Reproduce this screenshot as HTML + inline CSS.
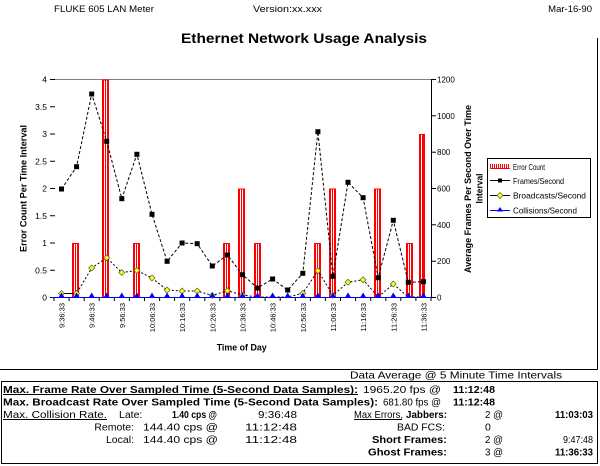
<!DOCTYPE html>
<html><head><meta charset="utf-8"><style>
html,body{margin:0;padding:0;background:#fff;}
svg{display:block;font-family:"Liberation Sans",Arial,sans-serif;}
</style></head><body>
<svg width="600" height="466" viewBox="0 0 600 466" xmlns="http://www.w3.org/2000/svg">
<defs>
<pattern id="lp" x="0" y="0" width="2" height="6" patternUnits="userSpaceOnUse">
<rect x="0" y="0" width="1" height="6" fill="#f00"/><rect x="1" y="1" width="1" height="5" fill="#fff"/><rect x="1" y="0" width="1" height="1" fill="#f00"/>
</pattern>
</defs>
<rect width="600" height="466" fill="#fff"/>
<!-- header -->
<text x="54" y="12" font-size="9.5" textLength="100" lengthAdjust="spacingAndGlyphs">FLUKE 605 LAN Meter</text>
<text x="253" y="12" font-size="9.5" textLength="69" lengthAdjust="spacingAndGlyphs">Version:xx.xxx</text>
<text x="592" y="12" font-size="9.5" text-anchor="end">Mar-16-90</text>
<text x="181" y="43" font-size="13.5" font-weight="bold" textLength="246" lengthAdjust="spacingAndGlyphs">Ethernet Network Usage Analysis</text>
<!-- frame -->
<line x1="597.5" y1="38" x2="597.5" y2="369.5" stroke="#000"/>
<line x1="0" y1="369.5" x2="597.5" y2="369.5" stroke="#000"/>
<!-- gridline top -->
<line x1="54" y1="79.5" x2="431" y2="79.5" stroke="#808080"/>
<!-- left axis ticks and labels -->
<g stroke="#000">
<line x1="50" y1="79.5" x2="55" y2="79.5"/><line x1="50" y1="106.75" x2="55" y2="106.75"/><line x1="50" y1="134" x2="55" y2="134"/><line x1="50" y1="161.25" x2="55" y2="161.25"/><line x1="50" y1="188.5" x2="55" y2="188.5"/><line x1="50" y1="215.75" x2="55" y2="215.75"/><line x1="50" y1="243" x2="55" y2="243"/><line x1="50" y1="270.25" x2="55" y2="270.25"/><line x1="50" y1="297.5" x2="55" y2="297.5"/>
</g>
<g font-size="8.5" text-anchor="end">
<text x="47" y="82.5">4</text><text x="47" y="109.75">3.5</text><text x="47" y="137">3</text><text x="47" y="164.25">2.5</text><text x="47" y="191.5">2</text><text x="47" y="218.75">1.5</text><text x="47" y="246">1</text><text x="47" y="273.25">0.5</text><text x="47" y="300.5">0</text>
</g>
<!-- right axis -->
<line x1="431.5" y1="79" x2="431.5" y2="298" stroke="#000"/>
<g stroke="#000">
<line x1="431.5" y1="79.5" x2="436" y2="79.5"/><line x1="431.5" y1="115.8" x2="436" y2="115.8"/><line x1="431.5" y1="152.2" x2="436" y2="152.2"/><line x1="431.5" y1="188.5" x2="436" y2="188.5"/><line x1="431.5" y1="224.8" x2="436" y2="224.8"/><line x1="431.5" y1="261.2" x2="436" y2="261.2"/><line x1="431.5" y1="297.5" x2="436" y2="297.5"/>
</g>
<g font-size="8">
<text x="437" y="82.5">1200</text><text x="437" y="118.8">1000</text><text x="437" y="155.2">800</text><text x="437" y="191.5">600</text><text x="437" y="227.8">400</text><text x="437" y="264.2">200</text><text x="437" y="300.5">0</text>
</g>
<!-- axis titles -->
<text transform="translate(26.5,188.5) rotate(-90)" font-size="9" font-weight="bold" text-anchor="middle" textLength="127" lengthAdjust="spacingAndGlyphs">Error Count Per Time Interval</text>
<text transform="translate(471,189) rotate(-90)" font-size="9" font-weight="bold" text-anchor="middle" textLength="168" lengthAdjust="spacingAndGlyphs">Average Frames Per Second Over Time</text>
<text transform="translate(482.5,188.5) rotate(-90)" font-size="9" font-weight="bold" text-anchor="middle" textLength="30" lengthAdjust="spacingAndGlyphs">Interval</text>
<text x="241.7" y="350.5" font-size="9" font-weight="bold" text-anchor="middle" textLength="50" lengthAdjust="spacingAndGlyphs">Time of Day</text>
<!-- bars -->
<g fill="#f00">
<rect x="72" y="243" width="7" height="54.5"/>
<rect x="102" y="79.5" width="7" height="218"/>
<rect x="133" y="243" width="7" height="54.5"/>
<rect x="223" y="243" width="7" height="54.5"/>
<rect x="238" y="188.5" width="7" height="109"/>
<rect x="254" y="243" width="7" height="54.5"/>
<rect x="314" y="243" width="7" height="54.5"/>
<rect x="329" y="188.5" width="7" height="109"/>
<rect x="374" y="188.5" width="7" height="109"/>
<rect x="406" y="243" width="7" height="54.5"/>
<rect x="419" y="134" width="6" height="163.5"/>
</g>
<g fill="#fff">
<rect x="74" y="244" width="1" height="53"/><rect x="76" y="244" width="1" height="53"/>
<rect x="104" y="80.5" width="1" height="216"/><rect x="106" y="80.5" width="1" height="216"/>
<rect x="135" y="244" width="1" height="53"/><rect x="137" y="244" width="1" height="53"/>
<rect x="225" y="244" width="1" height="53"/><rect x="227" y="244" width="1" height="53"/>
<rect x="240" y="189.5" width="1" height="107"/><rect x="242" y="189.5" width="1" height="107"/>
<rect x="256" y="244" width="1" height="53"/><rect x="258" y="244" width="1" height="53"/>
<rect x="316" y="244" width="1" height="53"/><rect x="318" y="244" width="1" height="53"/>
<rect x="331" y="189.5" width="1" height="107"/><rect x="333" y="189.5" width="1" height="107"/>
<rect x="376" y="189.5" width="1" height="107"/><rect x="378" y="189.5" width="1" height="107"/>
<rect x="408" y="244" width="1" height="53"/><rect x="410" y="244" width="1" height="53"/>
<rect x="421" y="135" width="1" height="162"/>
</g>
<!-- x axis -->
<line x1="51" y1="297.5" x2="431.5" y2="297.5" stroke="#0000ff"/>
<g stroke="#000">
<line x1="54" y1="298" x2="54" y2="301"/><line x1="69.1" y1="298" x2="69.1" y2="301"/><line x1="84.2" y1="298" x2="84.2" y2="301"/><line x1="99.2" y1="298" x2="99.2" y2="301"/><line x1="114.3" y1="298" x2="114.3" y2="301"/><line x1="129.4" y1="298" x2="129.4" y2="301"/><line x1="144.5" y1="298" x2="144.5" y2="301"/><line x1="159.6" y1="298" x2="159.6" y2="301"/><line x1="174.6" y1="298" x2="174.6" y2="301"/><line x1="189.7" y1="298" x2="189.7" y2="301"/><line x1="204.8" y1="298" x2="204.8" y2="301"/><line x1="219.9" y1="298" x2="219.9" y2="301"/><line x1="235" y1="298" x2="235" y2="301"/><line x1="250" y1="298" x2="250" y2="301"/><line x1="265.1" y1="298" x2="265.1" y2="301"/><line x1="280.2" y1="298" x2="280.2" y2="301"/><line x1="295.3" y1="298" x2="295.3" y2="301"/><line x1="310.4" y1="298" x2="310.4" y2="301"/><line x1="325.4" y1="298" x2="325.4" y2="301"/><line x1="340.5" y1="298" x2="340.5" y2="301"/><line x1="355.6" y1="298" x2="355.6" y2="301"/><line x1="370.7" y1="298" x2="370.7" y2="301"/><line x1="385.8" y1="298" x2="385.8" y2="301"/><line x1="400.8" y1="298" x2="400.8" y2="301"/><line x1="415.9" y1="298" x2="415.9" y2="301"/><line x1="431" y1="298" x2="431" y2="301"/>
</g>
<!-- x labels -->
<g font-size="7.5" text-anchor="end">
<text transform="translate(64.5,303) rotate(-90)">9:36:33</text>
<text transform="translate(94.7,303) rotate(-90)">9:46:33</text>
<text transform="translate(124.8,303) rotate(-90)">9:56:33</text>
<text transform="translate(155,303) rotate(-90)">10:06:33</text>
<text transform="translate(185.1,303) rotate(-90)">10:16:33</text>
<text transform="translate(215.3,303) rotate(-90)">10:26:33</text>
<text transform="translate(245.5,303) rotate(-90)">10:36:33</text>
<text transform="translate(275.6,303) rotate(-90)">10:46:33</text>
<text transform="translate(305.8,303) rotate(-90)">10:56:33</text>
<text transform="translate(335.9,303) rotate(-90)">11:06:33</text>
<text transform="translate(366.1,303) rotate(-90)">11:16:33</text>
<text transform="translate(396.3,303) rotate(-90)">11:26:33</text>
<text transform="translate(426.4,303) rotate(-90)">11:36:33</text>
</g>
<!-- frames line -->
<polyline fill="none" stroke="#000" stroke-width="1" stroke-dasharray="3,2" points="61.5,189 76.6,166.7 91.7,94 106.7,141.3 121.8,198.7 136.9,154.3 152,214.3 167.1,261.3 182.1,243 197.2,243.7 212.3,266 227.4,255 242.5,274.7 257.5,288 272.6,279 287.7,290 302.8,273.3 317.9,131.7 332.9,276.3 348,182.3 363.1,197.7 378.2,277.7 393.3,220.3 408.3,282.3 423.4,281.7"/>
<g fill="#000">
<rect x="59" y="186.5" width="5" height="5"/><rect x="74.1" y="164.2" width="5" height="5"/><rect x="89.2" y="91.5" width="5" height="5"/><rect x="104.2" y="138.8" width="5" height="5"/><rect x="119.3" y="196.2" width="5" height="5"/><rect x="134.4" y="151.8" width="5" height="5"/><rect x="149.5" y="211.8" width="5" height="5"/><rect x="164.6" y="258.8" width="5" height="5"/><rect x="179.6" y="240.5" width="5" height="5"/><rect x="194.7" y="241.2" width="5" height="5"/><rect x="209.8" y="263.5" width="5" height="5"/><rect x="224.9" y="252.5" width="5" height="5"/><rect x="240" y="272.2" width="5" height="5"/><rect x="255" y="285.5" width="5" height="5"/><rect x="270.1" y="276.5" width="5" height="5"/><rect x="285.2" y="287.5" width="5" height="5"/><rect x="300.3" y="270.8" width="5" height="5"/><rect x="315.4" y="129.2" width="5" height="5"/><rect x="330.4" y="273.8" width="5" height="5"/><rect x="345.5" y="179.8" width="5" height="5"/><rect x="360.6" y="195.2" width="5" height="5"/><rect x="375.7" y="275.2" width="5" height="5"/><rect x="390.8" y="217.8" width="5" height="5"/><rect x="405.8" y="279.8" width="5" height="5"/><rect x="420.9" y="279.2" width="5" height="5"/>
</g>
<!-- broadcasts line -->
<polyline fill="none" stroke="#000" stroke-width="1" stroke-dasharray="2,2" points="61.5,293.5 76.6,293.5 91.7,268 106.7,257.8 121.8,272.5 136.9,270.5 152,278 167.1,290 182.1,291 197.2,291 212.3,295.5 227.4,290.7 242.5,295 257.5,297 272.6,297 287.7,297 302.8,293.3 317.9,270.7 332.9,295.3 348,282.3 363.1,279.7 378.2,297 393.3,284 408.3,297 423.4,297"/>
<line x1="61.5" y1="293.5" x2="76.6" y2="293.5" stroke="#000"/>
<g fill="#ffff00" stroke="#555" stroke-width="0.7">
<path d="M61.5,290.5 l3,3 l-3,3 l-3,-3z"/><path d="M76.6,290.5 l3,3 l-3,3 l-3,-3z"/><path d="M91.7,265 l3,3 l-3,3 l-3,-3z"/><path d="M106.7,254.8 l3,3 l-3,3 l-3,-3z"/><path d="M121.8,269.5 l3,3 l-3,3 l-3,-3z"/><path d="M136.9,267.5 l3,3 l-3,3 l-3,-3z"/><path d="M152,275 l3,3 l-3,3 l-3,-3z"/><path d="M167.1,287 l3,3 l-3,3 l-3,-3z"/><path d="M182.1,288 l3,3 l-3,3 l-3,-3z"/><path d="M197.2,288 l3,3 l-3,3 l-3,-3z"/><path d="M212.3,292.5 l3,3 l-3,3 l-3,-3z"/><path d="M227.4,287.7 l3,3 l-3,3 l-3,-3z"/><path d="M242.5,292 l3,3 l-3,3 l-3,-3z"/><path d="M302.8,290.3 l3,3 l-3,3 l-3,-3z"/><path d="M317.9,267.7 l3,3 l-3,3 l-3,-3z"/><path d="M332.9,292.3 l3,3 l-3,3 l-3,-3z"/><path d="M348,279.3 l3,3 l-3,3 l-3,-3z"/><path d="M363.1,276.7 l3,3 l-3,3 l-3,-3z"/><path d="M393.3,281 l3,3 l-3,3 l-3,-3z"/>
</g>
<!-- collisions triangles -->
<g fill="#0000ff">
<path d="M61.5,292.5 l3,5 l-6,0z"/><path d="M76.6,292.5 l3,5 l-6,0z"/><path d="M91.7,292.5 l3,5 l-6,0z"/><path d="M106.7,292.5 l3,5 l-6,0z"/><path d="M121.8,292.5 l3,5 l-6,0z"/><path d="M136.9,292.5 l3,5 l-6,0z"/><path d="M152,292.5 l3,5 l-6,0z"/><path d="M167.1,292.5 l3,5 l-6,0z"/><path d="M182.1,292.5 l3,5 l-6,0z"/><path d="M197.2,292.5 l3,5 l-6,0z"/><path d="M212.3,292.5 l3,5 l-6,0z"/><path d="M227.4,292.5 l3,5 l-6,0z"/><path d="M242.5,292.5 l3,5 l-6,0z"/><path d="M257.5,292.5 l3,5 l-6,0z"/><path d="M272.6,292.5 l3,5 l-6,0z"/><path d="M287.7,292.5 l3,5 l-6,0z"/><path d="M302.8,292.5 l3,5 l-6,0z"/><path d="M317.9,292.5 l3,5 l-6,0z"/><path d="M332.9,292.5 l3,5 l-6,0z"/><path d="M348,292.5 l3,5 l-6,0z"/><path d="M363.1,292.5 l3,5 l-6,0z"/><path d="M378.2,292.5 l3,5 l-6,0z"/><path d="M393.3,292.5 l3,5 l-6,0z"/><path d="M408.3,292.5 l3,5 l-6,0z"/><path d="M423.4,292.5 l3,5 l-6,0z"/>
</g>
<!-- legend -->
<rect x="487.5" y="158.5" width="103" height="59" fill="#fff" stroke="#000"/>
<rect x="490" y="164" width="20" height="5" fill="url(#lp)"/>
<line x1="490" y1="180.5" x2="510" y2="180.5" stroke="#000"/>
<rect x="498" y="178.5" width="4" height="4" fill="#000"/>
<line x1="490" y1="195.5" x2="510" y2="195.5" stroke="#000"/>
<path d="M500,192.5 l3,3 l-3,3 l-3,-3z" fill="#ffff00" stroke="#555" stroke-width="0.7"/>
<line x1="490" y1="210.5" x2="510" y2="210.5" stroke="#0000ff"/>
<path d="M500,207 l3,4.5 l-6,0z" fill="#0000ff"/>
<g font-size="8.5">
<text x="513" y="170" textLength="32" lengthAdjust="spacingAndGlyphs">Error Count</text>
<text x="513" y="184" textLength="51" lengthAdjust="spacingAndGlyphs">Frames/Second</text>
<text x="513" y="198.5" textLength="73" lengthAdjust="spacingAndGlyphs">Broadcasts/Second</text>
<text x="513" y="213.5" textLength="64" lengthAdjust="spacingAndGlyphs">Collisions/Second</text>
</g>
<!-- bottom section -->
<text x="350" y="378.5" font-size="10.5" textLength="212" lengthAdjust="spacingAndGlyphs">Data Average @ 5 Minute Time Intervals</text>
<rect x="1.5" y="381.5" width="596" height="82" fill="none" stroke="#000"/>
<g font-size="10.5">
<text x="3" y="393" font-weight="bold" textLength="355" lengthAdjust="spacingAndGlyphs">Max. Frame Rate Over Sampled Time (5-Second Data Samples):</text>
<line x1="3" y1="394.5" x2="358" y2="394.5" stroke="#000"/>
<text x="363" y="393" textLength="78" lengthAdjust="spacingAndGlyphs">1965.20 fps @</text>
<text x="453" y="393" font-weight="bold" textLength="42" lengthAdjust="spacingAndGlyphs">11:12:48</text>

<text x="3" y="405.5" font-weight="bold" textLength="375" lengthAdjust="spacingAndGlyphs">Max. Broadcast Rate Over Sampled Time (5-Second Data Samples):</text>
<text x="383" y="405.5" textLength="58" lengthAdjust="spacingAndGlyphs">681.80 fps @</text>
<text x="453" y="405.5" font-weight="bold" textLength="42" lengthAdjust="spacingAndGlyphs">11:12:48</text>

<text x="3" y="418" textLength="104" lengthAdjust="spacingAndGlyphs">Max. Collision Rate.</text>
<line x1="3" y1="419.5" x2="107" y2="419.5" stroke="#000"/>
<text x="119" y="418">Late:</text>
<text x="172" y="418" font-weight="bold" textLength="45" lengthAdjust="spacingAndGlyphs">1.40 cps @</text>
<text x="258" y="418" textLength="39" lengthAdjust="spacingAndGlyphs">9:36:48</text>
<text x="354" y="418" textLength="49" lengthAdjust="spacingAndGlyphs">Max Errors,</text>
<line x1="354" y1="419.5" x2="402" y2="419.5" stroke="#000"/>
<text x="406" y="418" font-weight="bold" textLength="41" lengthAdjust="spacingAndGlyphs">Jabbers:</text>
<text x="485" y="418" textLength="18" lengthAdjust="spacingAndGlyphs">2 @</text>
<text x="555" y="418" font-weight="bold" textLength="38" lengthAdjust="spacingAndGlyphs">11:03:03</text>

<text x="134" y="430.5" text-anchor="end">Remote:</text>
<text x="143" y="430.5" textLength="75" lengthAdjust="spacingAndGlyphs">144.40 cps @</text>
<text x="245" y="430.5" textLength="52" lengthAdjust="spacingAndGlyphs">11:12:48</text>
<text x="397" y="430.5" textLength="48" lengthAdjust="spacingAndGlyphs">BAD FCS:</text>
<text x="485" y="430.5">0</text>

<text x="134" y="443" text-anchor="end">Local:</text>
<text x="143" y="443" textLength="75" lengthAdjust="spacingAndGlyphs">144.40 cps @</text>
<text x="245" y="443" textLength="52" lengthAdjust="spacingAndGlyphs">11:12:48</text>
<text x="372" y="443" font-weight="bold" textLength="75" lengthAdjust="spacingAndGlyphs">Short Frames:</text>
<text x="485" y="443" textLength="18" lengthAdjust="spacingAndGlyphs">2 @</text>
<text x="563" y="443" textLength="30" lengthAdjust="spacingAndGlyphs">9:47:48</text>

<text x="368" y="455.5" font-weight="bold" textLength="79" lengthAdjust="spacingAndGlyphs">Ghost Frames:</text>
<text x="485" y="455.5" textLength="18" lengthAdjust="spacingAndGlyphs">3 @</text>
<text x="555" y="455.5" font-weight="bold" textLength="38" lengthAdjust="spacingAndGlyphs">11:36:33</text>
</g>
</svg>
</body></html>
